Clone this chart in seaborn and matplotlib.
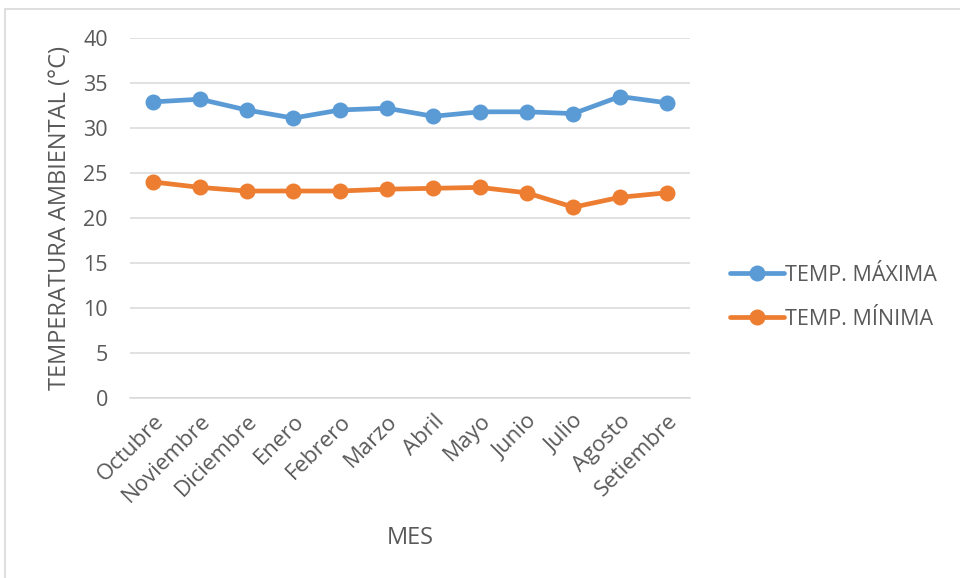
import matplotlib
matplotlib.use("Agg")
import matplotlib.pyplot as plt
import seaborn as sns
import pandas as pd
from matplotlib.patches import Rectangle

# Monthly ambient temperatures
meses = ["Octubre", "Noviembre", "Diciembre", "Enero", "Febrero", "Marzo",
         "Abril", "Mayo", "Junio", "Julio", "Agosto", "Setiembre"]
temp_maxima = [32.9, 33.2, 32.0, 31.1, 32.0, 32.2, 31.3, 31.8, 31.8, 31.6, 33.5, 32.8]
temp_minima = [24.0, 23.4, 23.0, 23.0, 23.0, 23.2, 23.3, 23.4, 22.8, 21.2, 22.3, 22.8]
series = ["TEMP. MÁXIMA", "TEMP. MÍNIMA"]
y_ticks = [0, 5, 10, 15, 20, 25, 30, 35, 40]

df = pd.DataFrame({
    "MES": list(range(len(meses))) * 2,
    "TEMP": temp_maxima + temp_minima,
    "SERIE": [series[0]] * len(meses) + [series[1]] * len(meses),
})

sns.set_theme(style="white")
plt.rcParams["font.family"] = ["Open Sans", "DejaVu Sans"]
text_color = "#595959"

fig = plt.figure(figsize=(9.6, 5.78), dpi=100)
ax = fig.add_axes([130 / 960, 1 - 398 / 578, 560 / 960, 360 / 578])

# outer chart border
fig.patches.append(Rectangle((5 / 960, -0.1), 1.2, 1 - 9 / 578 + 0.1,
                             transform=fig.transFigure, fill=False,
                             edgecolor="#D9D9D9", linewidth=1.2, zorder=0))

palette = {series[0]: "#5B9BD5", series[1]: "#ED7D31"}
sns.lineplot(data=df, x="MES", y="TEMP", hue="SERIE", palette=palette,
             marker="o", markersize=11.5, markeredgewidth=0, linewidth=3.4,
             ax=ax, legend=True)

ax.set_xlim(-0.5, len(meses) - 0.5)
ax.set_ylim(0, 40)
ax.set_yticks(y_ticks)
ax.set_yticklabels([str(v) for v in y_ticks])
ax.set_xticks(range(len(meses)))
ax.set_xticklabels(meses, rotation=45, ha="right", va="top", rotation_mode="anchor")
ax.tick_params(axis="x", length=0, pad=9, labelsize=16, labelcolor=text_color)
ax.tick_params(axis="y", length=0, pad=16, labelsize=15.5, labelcolor=text_color)

ax.grid(axis="y", color="#D9D9D9", linewidth=1.1)
ax.set_axisbelow(True)
for s in ax.spines.values():
    s.set_visible(False)
ax.spines["bottom"].set_visible(True)
ax.spines["bottom"].set_color("#D9D9D9")
ax.spines["bottom"].set_linewidth(1.1)

ax.set_xlabel("MES", fontsize=17, color=text_color)
ax.set_ylabel("TEMPERATURA AMBIENTAL (°C)", fontsize=17, color=text_color)
ax.xaxis.set_label_coords(0.5, -(538 - 398) / 360)
ax.yaxis.set_label_coords((60 - 130) / 560, 0.5)
ax.yaxis.label.set_va("center")
ax.xaxis.label.set_va("center")

handles, labels = ax.get_legend_handles_labels()
ax.legend(handles, labels, loc="center left",
          bbox_to_anchor=(1 + 40 / 560, 0.28), bbox_transform=ax.transAxes,
          frameon=False, fontsize=15.5, handlelength=2.5, handletextpad=0.05,
          labelspacing=1.05, borderpad=0, borderaxespad=0,
          labelcolor=text_color)

fig.savefig("out.png", dpi=100)
